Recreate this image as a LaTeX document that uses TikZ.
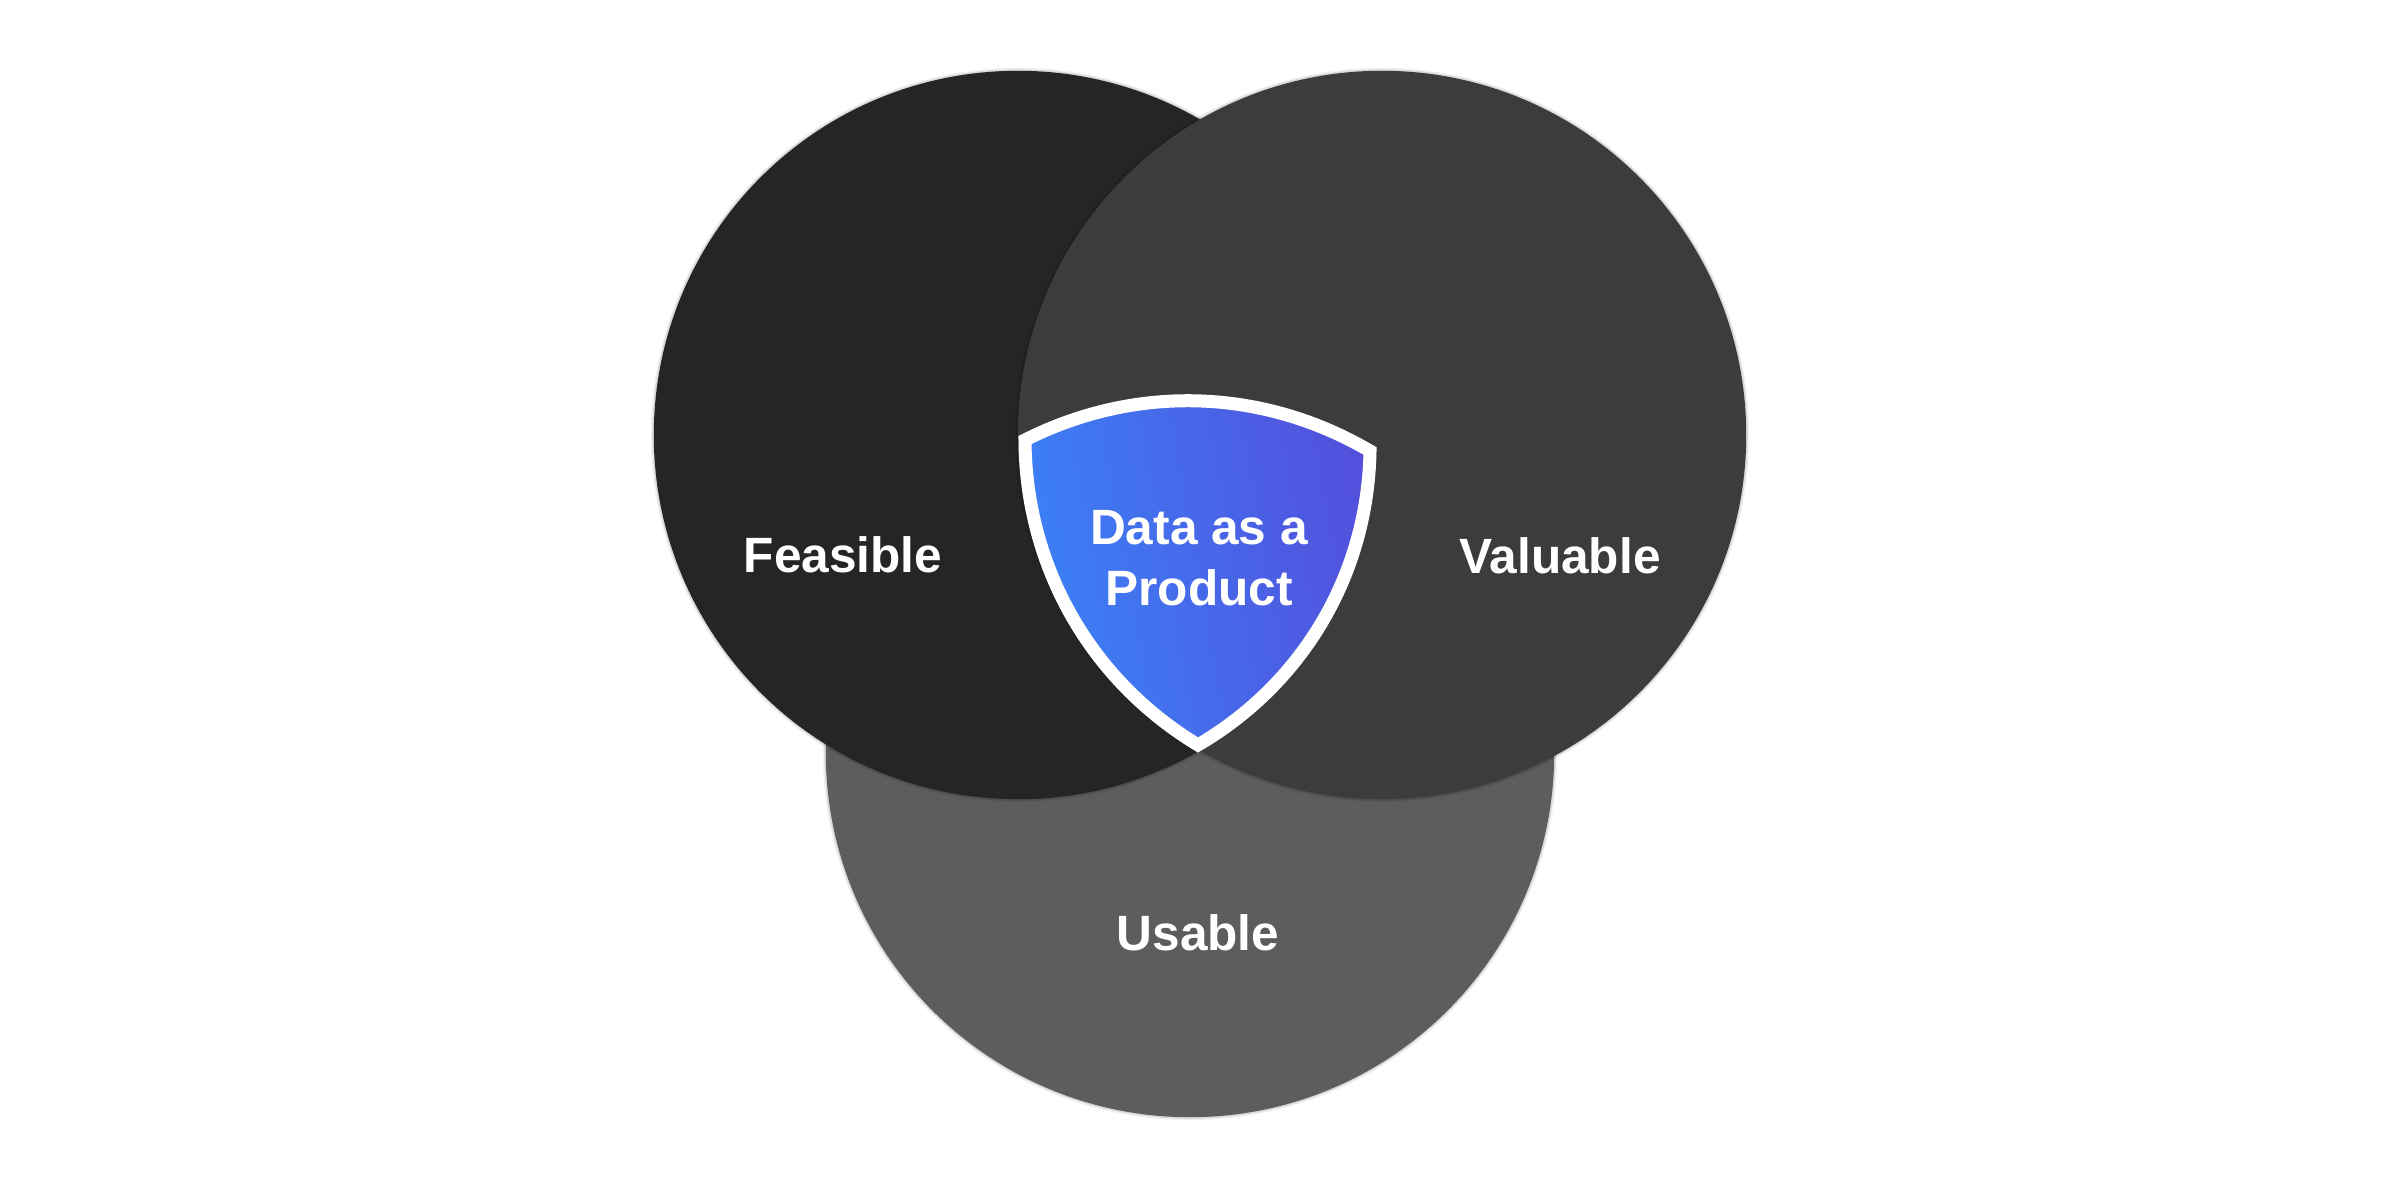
\documentclass[tikz,border=0pt]{standalone}
\usepackage{fontspec}
\setmainfont{Liberation Sans}
\definecolor{feasiblegray}{HTML}{252525}
\definecolor{valuablegray}{HTML}{3C3C3C}
\definecolor{usablegray}{HTML}{5D5D5D}
\definecolor{shieldleft}{HTML}{3B82F6}
\definecolor{shieldright}{HTML}{5250DC}
\tikzset{
  softedge/.style={preaction={draw=black,draw opacity=.05,line width=1.7pt},preaction={draw=black,draw opacity=.10,line width=.9pt}},
  venncircle/.style={circle,minimum size=7.28cm,inner sep=0pt,softedge},
  venntext/.style={text=white,font=\bfseries\fontsize{14.1}{17.1}\selectfont,align=center,inner sep=0pt,anchor=base},
  shieldarc/.style={bend right=29.3,looseness=.92}
}
\begin{document}
\begin{tikzpicture}[x=0.01cm,y=0.01cm]
			\useasboundingbox (0,0) rectangle (2400,1200);
			\fill[white] (0,0) rectangle (2400,1200);
			\node[venncircle,fill=usablegray] (usable) at (1190,447) {};
			\node[venncircle,fill=feasiblegray] (feasible) at (1018,765) {};
			\node[venncircle,fill=valuablegray] (valuable) at (1382,765) {};
			\coordinate (shieldl) at (1025,760);
			\coordinate (shieldr) at (1370,749);
			\coordinate (shieldb) at (1198,455);
			\draw[draw=white,line width=13*0.2845pt,line join=miter,left color=shieldleft,right color=shieldright,shading angle=100,softedge]
				(shieldl) to[shieldarc] (shieldb) to[shieldarc] (shieldr) to[shieldarc,bend right=28.6] cycle;
			\node[venntext] (feasibletext) at (843,627) {Feasible};
			\node[venntext] (valuabletext) at (1560,626) {Valuable};
			\node[venntext] (usabletext) at (1198,249) {Usable};
			\node[venntext] (producttext) at (1199,655) {Data as a};
			\node[venntext] (producttext2) at (1199,594) {Product};
\end{tikzpicture}
\end{document}
